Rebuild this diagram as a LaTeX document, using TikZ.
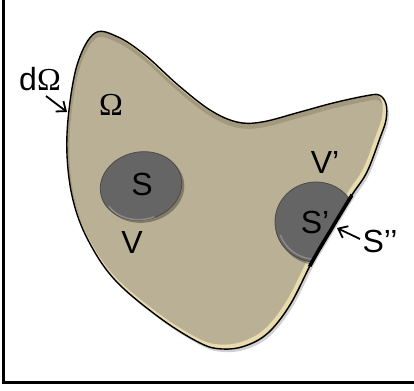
\documentclass[tikz,border=0pt]{standalone}
\usepackage{fontspec}
\setmainfont{Liberation Sans}
\newfontfamily\seriffont{Liberation Serif}
\usetikzlibrary{arrows.meta}
\definecolor{beige}{HTML}{BAB096}
\definecolor{beigedark}{HTML}{9A9076}
\definecolor{cream}{HTML}{E8DBAE}
\definecolor{discgray}{HTML}{656565}
\definecolor{discedge}{HTML}{4A4A4A}
\definecolor{discrim}{HTML}{8A8A8A}
\begin{document}
\begin{tikzpicture}[x=1pt,y=-1pt,
  blob/.style={insert path={plot[smooth cycle,tension=0.6] coordinates{
    (95,33) (118,37) (145,55) (178,85) (210,110) (237,122) (262,122) (300,112)
    (333,103) (365,96) (379,95) (386,104) (386,120) (380,138) (367,172) (352,195)
    (332,228) (312,262) (290,305) (268,333) (245,346) (222,349) (200,343)
    (160,318) (115,280) (88,240) (73,200) (67,155) (69,110) (78,62)}}},
  disc/.style={fill=discgray, draw=discedge, line width=0.8},
  lbl/.style={font=\fontsize{32}{38}\selectfont, inner sep=0pt},
  arr/.style={line width=1.8, -{Straight Barb[length=8pt,width=13pt,line width=1.8pt]}},
  frame/.style={line width=2.5, draw=black}]
\useasboundingbox (0,0) rectangle (414,390);
% frame (open at top and right)
\draw[frame] (3.5,-10) -- (3.5,382.5) -- (430,382.5);
% blob with shadow
\fill[black, opacity=0.18, shift={(2,3)}, blob];
\fill[beige, blob];
\begin{scope}
  \clip[blob];
  \draw[beigedark, line width=5, opacity=0.7, shift={(0,3)}, blob];
  \draw[cream, line width=4, shift={(-2,-2.5)}, blob];
  % disc S with shadow
  \fill[black, opacity=0.3, rotate around={12:(141,186)}] (143,189) ellipse (41 and 34);
  \draw[disc, rotate around={12:(141,186)}] (141,186) ellipse (41 and 34);
  \draw[discrim, line width=1.5, rotate around={12:(141,186)}] (141,186) ++(-200:38) arc (-200:-280:38 and 31);
  % disc S' clipped by the boundary
  \fill[black, opacity=0.3] (318,225) ellipse (41 and 40);
  \draw[disc] (316,222) ellipse (41 and 40);
  \draw[discrim, line width=1.5] (316,222) ++(-200:38) arc (-200:-280:38 and 37);
\end{scope}
% boundary
\draw[black, line width=1.4, blob];
% S'' thick boundary segment
\begin{scope}
  \clip (316,222) ellipse (45 and 45);
  \draw[black, line width=3.6, blob];
\end{scope}
% labels
\node[lbl] (dO) at (40,79) {d{\seriffont Ω}};
\node[lbl] (Om) at (111,105) {\seriffont Ω};
\node[lbl] (S) at (142,184) {S};
\node[lbl] (V) at (132,242) {V};
\node[lbl] (Vp) at (325,162) {V’};
\node[lbl] (Sp) at (315,222) {S’};
\node[lbl] (Spp) at (380,241) {S’’};
% arrows
\coordinate (dOs) at (46,96);
\coordinate (dOt) at (67,112);
\draw[arr] (dOs) -- (dOt);
\coordinate (Spps) at (360,239);
\coordinate (Sppt) at (337,228);
\draw[arr] (Spps) -- (Sppt);
\end{tikzpicture}
\end{document}
